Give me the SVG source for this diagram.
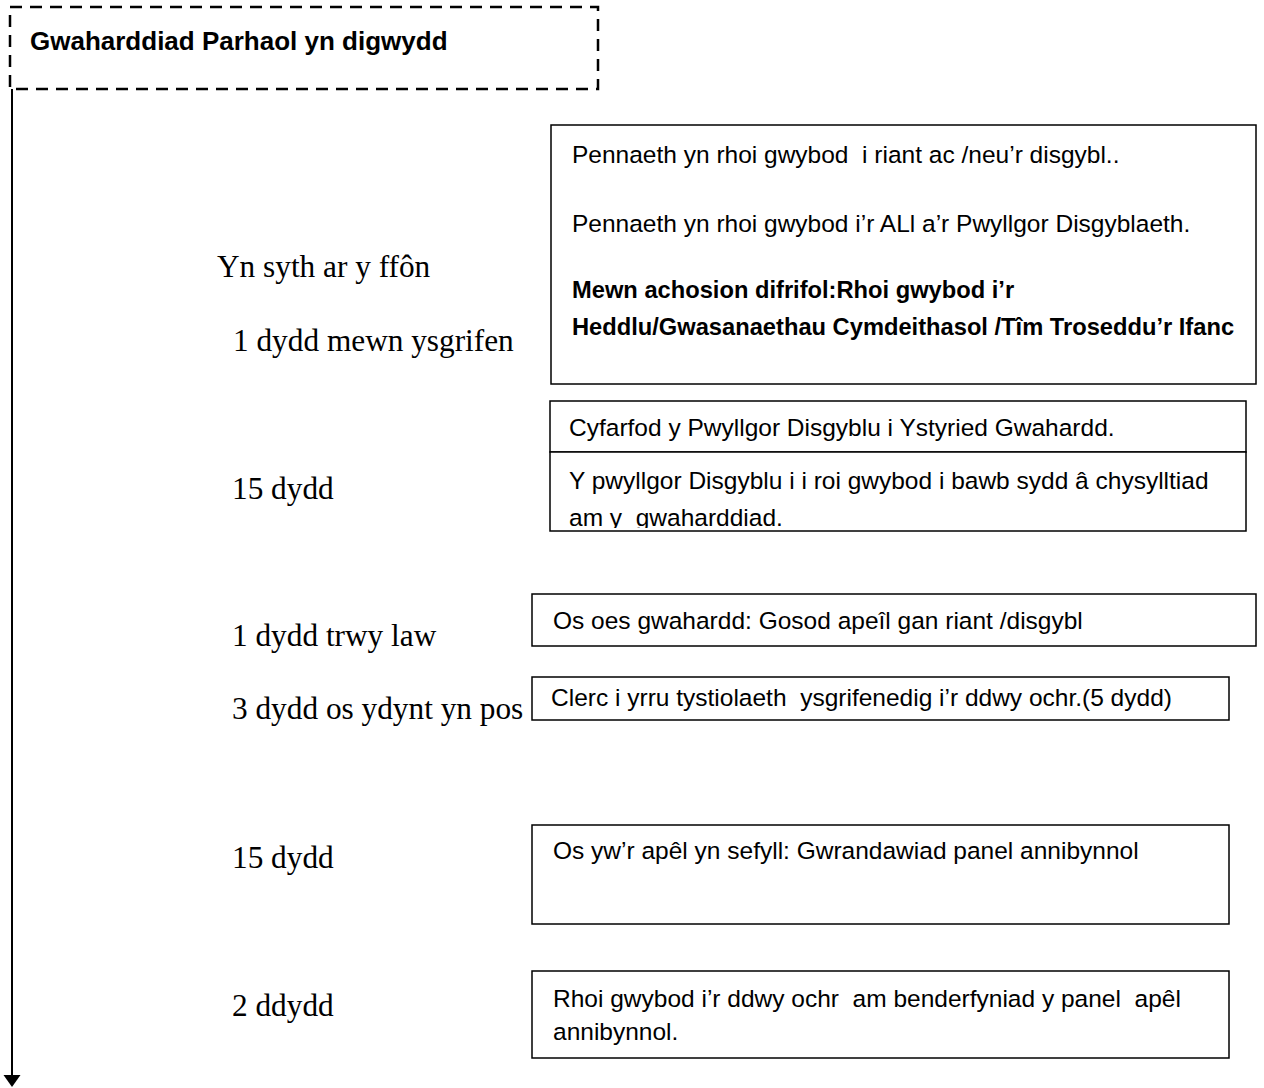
<svg xmlns="http://www.w3.org/2000/svg" width="1264" height="1088" viewBox="0 0 1264 1088">
<style>
.box{fill:#fff;stroke:#000;stroke-width:1.5}
text{white-space:pre}
.t{font-family:"Liberation Sans",Arial,sans-serif;font-size:24.5px;fill:#000}
.b{font-family:"Liberation Sans",Arial,sans-serif;font-size:23.7px;font-weight:bold;fill:#000}
.s{font-family:"Liberation Serif","Times New Roman",serif;font-size:31.3px;fill:#000}
</style>
<defs>
<marker id="arr" markerWidth="14" markerHeight="18" refX="0" refY="8.5" orient="auto" markerUnits="userSpaceOnUse">
<path d="M0,0 L12,8.5 L0,17 Z" fill="#000"/>
</marker>
<clipPath id="clip2"><rect x="550" y="452" width="696" height="76"/></clipPath>
</defs>
<rect width="1264" height="1088" fill="#fff"/>

<g id="start">
<rect x="10" y="7" width="588" height="82" fill="none" stroke="#000" stroke-width="2.5" stroke-dasharray="12 8"/>
<text x="30" y="50" font-family="'Liberation Sans',Arial,sans-serif" font-size="26" font-weight="bold">Gwaharddiad Parhaol yn digwydd</text>
</g>

<g id="connectors">
<line x1="12" y1="89" x2="12" y2="1075" stroke="#000" stroke-width="2" marker-end="url(#arr)"/>
</g>

<g id="labels">
<text class="s" x="217" y="277">Yn syth ar y ffôn</text>
<text class="s" x="233" y="351">1 dydd mewn ysgrifen</text>
<text class="s" x="232" y="499">15 dydd</text>
<text class="s" x="232" y="646">1 dydd trwy law</text>
<text class="s" x="232" y="719">3 dydd os ydynt yn pos</text>
<text class="s" x="232" y="868">15 dydd</text>
<text class="s" x="232" y="1016">2 ddydd</text>
</g>

<g id="box1">
<rect class="box" x="551" y="125" width="705" height="259"/>
<text class="t" x="572" y="163" xml:space="preserve">Pennaeth yn rhoi gwybod  i riant ac /neu’r disgybl..</text>
<text class="t" x="572" y="232">Pennaeth yn rhoi gwybod i’r ALl a’r Pwyllgor Disgyblaeth.</text>
<text class="b" x="572" y="298">Mewn achosion difrifol:Rhoi gwybod i’r</text>
<text class="b" x="572" y="335">Heddlu/Gwasanaethau Cymdeithasol /Tîm Troseddu’r Ifanc</text>
</g>

<g id="box2a">
<rect class="box" x="550" y="401" width="696" height="51"/>
<text class="t" x="569" y="436">Cyfarfod y Pwyllgor Disgyblu i Ystyried Gwahardd.</text>
</g>

<g id="box2b">
<rect class="box" x="550" y="452" width="696" height="79"/>
<g clip-path="url(#clip2)">
<text class="t" x="569" y="489">Y pwyllgor Disgyblu i i roi gwybod i bawb sydd â chysylltiad</text>
<text class="t" x="569" y="526" xml:space="preserve">am y  gwaharddiad.</text>
</g>
</g>

<g id="box3">
<rect class="box" x="532" y="594" width="724" height="52"/>
<text class="t" x="553" y="629">Os oes gwahardd: Gosod apeîl gan riant /disgybl</text>
</g>

<g id="box4">
<rect class="box" x="532" y="677" width="697" height="43"/>
<text class="t" x="551" y="706" xml:space="preserve">Clerc i yrru tystiolaeth  ysgrifenedig i’r ddwy ochr.(5 dydd)</text>
</g>

<g id="box5">
<rect class="box" x="532" y="825" width="697" height="99"/>
<text class="t" x="553" y="859">Os yw’r apêl yn sefyll: Gwrandawiad panel annibynnol</text>
</g>

<g id="box6">
<rect class="box" x="532" y="971" width="697" height="87"/>
<text class="t" x="553" y="1007" xml:space="preserve">Rhoi gwybod i’r ddwy ochr  am benderfyniad y panel  apêl</text>
<text class="t" x="553" y="1040">annibynnol.</text>
</g>
</svg>
